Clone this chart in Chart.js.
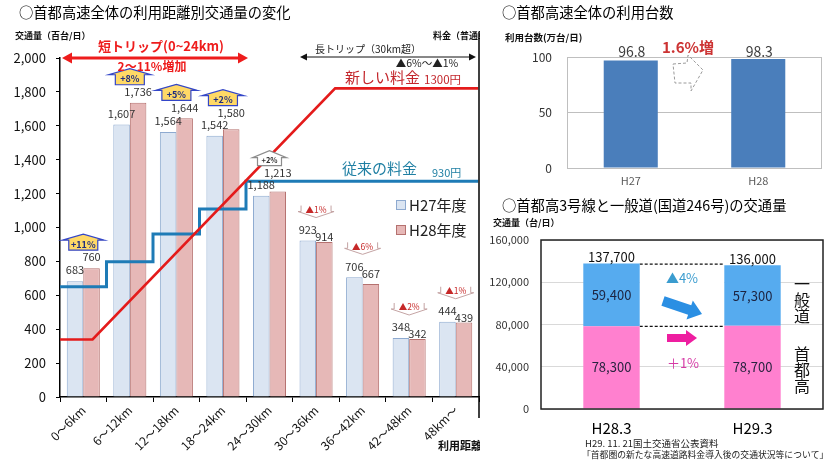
<!DOCTYPE html>
<html lang="ja">
<head>
<meta charset="utf-8">
<title>首都高速 交通量の変化</title>
<script src="https://cdn.jsdelivr.net/npm/chart.js@4.4.1/dist/chart.umd.min.js"></script>
<style>
  html, body { margin: 0; padding: 0; background: #fff; }
  #wrap { position: relative; width: 837px; height: 461px; overflow: hidden; background: #fff; }
  #wrap canvas { position: absolute; }
</style>
</head>
<body>
<div id="wrap">
  <canvas id="dist" width="480" height="461" style="left:0;top:0"></canvas>
  <canvas id="fare" width="480" height="461" style="left:0;top:0"></canvas>
  <canvas id="total" width="357" height="200" style="left:480px;top:0"></canvas>
  <canvas id="route" width="357" height="271" style="left:480px;top:190px"></canvas>
</div>
<script>
// ---- traffic by trip distance (hundreds of vehicles / day) ----
const distanceBands = ['0～6km', '6～12km', '12～18km', '18～24km', '24～30km', '30～36km', '36～42km', '42～48km', '48km～'];
const trafficH27 = [683, 1607, 1564, 1542, 1188, 923, 706, 348, 444];
const trafficH28 = [760, 1736, 1644, 1580, 1213, 914, 667, 342, 439];
const changeLabels = ['+11%', '+8%', '+5%', '+2%', '+2%', '▲1%', '▲6%', '▲2%', '▲1%'];
const shortTripBandCount = 4;

// ---- tolls for an ordinary car (yen) by distance (km) ----
const oldFareKm = [0, 6, 12, 18, 24, 54];
const oldFare = [510, 610, 720, 820, 930, 930];
const newFareKm = [0, 4.2, 35.5, 54];
const newFare = [300, 300, 1300, 1300];

// ---- daily users of the whole network (10,000 vehicles / day) ----
const yearLabels = ['H27', 'H28'];
const dailyUsers = [96.8, 98.3];

// ---- Route 3 vs. National Route 246 (vehicles / day) ----
const routePeriods = ['H28.3', 'H29.3'];
const expresswayVolume = [78300, 78700];
const localRoadVolume = [59400, 57300];

const F = "'Noto Sans CJK JP', 'Noto Sans', sans-serif";
Chart.defaults.font.family = F;
const fmt = v => Number(v).toLocaleString('en-US');

function txt(ctx, s, x, y, font, color, align = 'left', base = 'middle') {
  ctx.font = font; ctx.fillStyle = color; ctx.textAlign = align; ctx.textBaseline = base;
  ctx.fillText(s, x, y);
}

function doubleArrow(ctx, x0, x1, y, color, lw, hl, hw) {
  ctx.strokeStyle = color; ctx.fillStyle = color; ctx.lineWidth = lw;
  ctx.beginPath(); ctx.moveTo(x0 + hl - 1, y); ctx.lineTo(x1 - hl + 1, y); ctx.stroke();
  ctx.beginPath(); ctx.moveTo(x0, y); ctx.lineTo(x0 + hl, y - hw / 2); ctx.lineTo(x0 + hl, y + hw / 2); ctx.closePath(); ctx.fill();
  ctx.beginPath(); ctx.moveTo(x1, y); ctx.lineTo(x1 - hl, y - hw / 2); ctx.lineTo(x1 - hl, y + hw / 2); ctx.closePath(); ctx.fill();
}

function blockArrow(ctx, x0, y0, x1, y1, bw, hw, hl, color) {
  const dx = x1 - x0, dy = y1 - y0, L = Math.hypot(dx, dy);
  const ux = dx / L, uy = dy / L, nx = -uy, ny = ux;
  const bx = x1 - ux * hl, by = y1 - uy * hl;
  const pts = [
    [x0 + nx * bw / 2, y0 + ny * bw / 2], [bx + nx * bw / 2, by + ny * bw / 2], [bx + nx * hw / 2, by + ny * hw / 2],
    [x1, y1],
    [bx - nx * hw / 2, by - ny * hw / 2], [bx - nx * bw / 2, by - ny * bw / 2], [x0 - nx * bw / 2, y0 - ny * bw / 2]
  ];
  ctx.beginPath(); pts.forEach((p, i) => i ? ctx.lineTo(p[0], p[1]) : ctx.moveTo(p[0], p[1])); ctx.closePath();
  ctx.fillStyle = color; ctx.fill();
}

// house-shaped "increase" badge
function houseMark(ctx, cx, yb, highlight, label) {
  const boxW = highlight ? 29 : 24, boxH = highlight ? 10 : 8, roofW = highlight ? 42 : 34, roofH = highlight ? 6 : 7;
  ctx.beginPath();
  ctx.moveTo(cx - boxW / 2, yb); ctx.lineTo(cx - boxW / 2, yb - boxH); ctx.lineTo(cx - roofW / 2, yb - boxH);
  ctx.lineTo(cx, yb - boxH - roofH); ctx.lineTo(cx + roofW / 2, yb - boxH); ctx.lineTo(cx + boxW / 2, yb - boxH);
  ctx.lineTo(cx + boxW / 2, yb); ctx.closePath();
  ctx.fillStyle = highlight ? '#ffd966' : '#ffffff'; ctx.fill();
  ctx.strokeStyle = highlight ? '#3346c8' : '#8c8c8c'; ctx.lineWidth = 1.2; ctx.stroke();
  txt(ctx, label, cx, yb - boxH / 2 - 1, `bold ${highlight ? 9 : 7.5}px ${F}`, highlight ? '#1f2d80' : '#333', 'center');
}

// chevron-shaped "decrease" badge
function dropMark(ctx, cx, yt, label) {
  const w = 30, h = 6, wing = 18, tip = 6;
  ctx.beginPath();
  ctx.moveTo(cx - w / 2, yt); ctx.lineTo(cx - w / 2, yt + h); ctx.lineTo(cx - wing, yt + h); ctx.lineTo(cx, yt + h + tip);
  ctx.lineTo(cx + wing, yt + h); ctx.lineTo(cx + w / 2, yt + h); ctx.lineTo(cx + w / 2, yt);
  ctx.fillStyle = '#fff'; ctx.fill();
  ctx.strokeStyle = '#c4a3a3'; ctx.lineWidth = 1; ctx.stroke();
  txt(ctx, label, cx, yt + 4, `8.5px ${F}`, '#c62828', 'center');
}

// ---- traffic bars ----
const distChart = new Chart(document.getElementById('dist'), {
  type: 'bar',
  data: {
    labels: distanceBands,
    datasets: [
      { label: 'H27年度', data: trafficH27, backgroundColor: '#dbe5f2', borderColor: '#8eaad0', borderWidth: 1,
        categoryPercentage: 0.71, barPercentage: 1 },
      { label: 'H28年度', data: trafficH28, backgroundColor: '#e6b8b7', borderColor: '#b5716f', borderWidth: 1,
        categoryPercentage: 0.71, barPercentage: 1 }
    ]
  },
  options: {
    responsive: false, animation: false, events: [],
    layout: { padding: { top: 58, right: 1, bottom: 0, left: 0 } },
    plugins: { legend: { display: false }, tooltip: { enabled: false } },
    scales: {
      x: {
        grid: { drawOnChartArea: false, color: '#000', tickLength: 5 },
        border: { color: '#000', width: 1.5 },
        ticks: { minRotation: 45, maxRotation: 45, color: '#111', font: { size: 12 }, padding: 1 },
        afterFit: s => { s.height = 64; }
      },
      y: {
        min: 0, max: 2000,
        ticks: { stepSize: 200, color: '#111', font: { size: 13 }, padding: 10, callback: v => fmt(v) },
        grid: { drawOnChartArea: false, color: '#000', tickLength: 4 },
        border: { color: '#000', width: 1.5 },
        afterFit: s => { s.width = 60; }
      }
    }
  }
});

// ---- toll lines over the bars, plus all captions of the left panel ----
const distDecor = {
  id: 'distDecor',
  afterDraw(chart) {
    const ctx = chart.ctx;
    ctx.save();
    txt(ctx, '○首都高速全体の利用距離別交通量の変化', 19, 13, `14.3px ${F}`, '#000');
    txt(ctx, '交通量（百台/日）', 15, 36, `bold 9px ${F}`, '#111');
    txt(ctx, '料金（普通車）', 433, 36, `bold 9px ${F}`, '#111');

    // panel edge on the right
    ctx.strokeStyle = '#000'; ctx.lineWidth = 1.5;
    ctx.beginPath(); ctx.moveTo(479, 32); ctx.lineTo(479, 418); ctx.stroke();

    // toll captions
    txt(ctx, '新しい料金', 345, 77, `15px ${F}`, '#c3262b');
    txt(ctx, '1300円', 424, 80, `11.5px ${F}`, '#c3262b');
    txt(ctx, '従来の料金', 342, 168, `15px ${F}`, '#1f7fa3');
    txt(ctx, '930円', 432, 173, `11px ${F}`, '#1f7fa3');

    // legend
    [[0, 205], [1, 230]].forEach(([di, y]) => {
      const ds = distChart.data.datasets[di];
      ctx.fillStyle = ds.backgroundColor; ctx.fillRect(396, y - 5, 10, 10);
      ctx.strokeStyle = ds.borderColor; ctx.lineWidth = 1; ctx.strokeRect(396.5, y - 4.5, 9, 9);
      txt(ctx, ds.label, 409, y, `15px ${F}`, '#222');
    });

    // value labels and change badges
    const m27 = distChart.getDatasetMeta(0).data, m28 = distChart.getDatasetMeta(1).data;
    distanceBands.forEach((band, i) => {
      const a = m27[i], b = m28[i];
      const sa = fmt(trafficH27[i]), sb = fmt(trafficH28[i]);
      let ya = a.y - 11, yb = b.y - 11;
      ctx.font = `11px ${F}`;
      const wa = ctx.measureText(sa).width, wb = ctx.measureText(sb).width;
      const overlap = (a.x + wa / 2) - (b.x - wb / 2);
      if (overlap > -1 && Math.abs(ya - yb) < 8) {
        yb = ya + (trafficH28[i] >= trafficH27[i] ? -12 : 7);
      }
      txt(ctx, sa, a.x, ya, `11px ${F}`, '#333', 'center');
      txt(ctx, sb, b.x, yb, `11px ${F}`, '#333', 'center');

      const cx = distChart.scales.x.getPixelForValue(i);
      const topLabel = Math.min(ya, yb);
      const label = changeLabels[i];
      if (label.startsWith('▲')) {
        dropMark(ctx, cx, topLabel - 24, label);
      } else {
        houseMark(ctx, cx, topLabel - 7, i < shortTripBandCount, label);
      }
    });

    // trip range arrows
    doubleArrow(ctx, 62, 248, 58, '#ee1c1c', 3, 10, 11);
    txt(ctx, '短トリップ(0~24km)', 161, 46, `bold 13px ${F}`, '#ee1c1c', 'center');
    txt(ctx, '2～11%増加', 152, 66, `bold 12px ${F}`, '#ee1c1c', 'center');
    doubleArrow(ctx, 300, 476, 57, '#111', 1, 7, 7);
    txt(ctx, '長トリップ（30km超）', 368, 49, `10px ${F}`, '#222', 'center');
    txt(ctx, '▲6%～▲1%', 427, 63, `10.5px ${F}`, '#222', 'center');

    txt(ctx, '利用距離', 438, 446, `bold 11px ${F}`, '#111');
    ctx.restore();
  }
};

const fareChart = new Chart(document.getElementById('fare'), {
  type: 'line',
  data: {
    datasets: [
      { label: '新しい料金', data: newFareKm.map((km, i) => ({ x: km, y: newFare[i] })),
        borderColor: '#e41b1b', borderWidth: 2.6, pointRadius: 0, fill: false },
      { label: '従来の料金', data: oldFareKm.map((km, i) => ({ x: km, y: oldFare[i] })), stepped: 'before',
        borderColor: '#1e7bb6', borderWidth: 3, pointRadius: 0, fill: false }
    ]
  },
  options: {
    responsive: false, animation: false, events: [],
    layout: { padding: { top: 58, right: 1, bottom: 64, left: 60 } },
    plugins: { legend: { display: false }, tooltip: { enabled: false } },
    scales: {
      x: { type: 'linear', min: 0, max: 54, offset: false, display: false },
      y: { type: 'linear', min: 71, max: 1421, display: false }
    }
  },
  plugins: [distDecor]
});

// ---- daily users ----
const totalDecor = {
  id: 'totalDecor',
  afterDraw(chart) {
    const ctx = chart.ctx, a = chart.chartArea;
    ctx.save();
    ctx.strokeStyle = '#bfbfbf'; ctx.lineWidth = 1;
    ctx.strokeRect(a.left + 0.5, a.top + 0.5, a.right - a.left - 1, a.bottom - a.top);
    txt(ctx, '○首都高速全体の利用台数', 22, 13, `14.3px ${F}`, '#000');
    txt(ctx, '利用台数(万台/日)', 25, 37, `bold 9.5px ${F}`, '#111');
    chart.getDatasetMeta(0).data.forEach((el, i) => {
      txt(ctx, String(dailyUsers[i]), el.x + 1, 52, `14px ${F}`, '#404040', 'center');
    });
    // growth note with dashed arrow
    txt(ctx, '1.6%増', 182, 47, `bold 15px ${F}`, '#cc3333');
    ctx.setLineDash([3, 2]); ctx.strokeStyle = '#9a9a9a'; ctx.lineWidth = 1;
    ctx.beginPath();
    ctx.moveTo(193, 64); ctx.lineTo(207, 63); ctx.lineTo(208, 55); ctx.lineTo(223, 70);
    ctx.lineTo(211, 91); ctx.lineTo(211, 83); ctx.lineTo(195, 83); ctx.closePath(); ctx.stroke();
    ctx.restore();
  }
};
const totalChart = new Chart(document.getElementById('total'), {
  type: 'bar',
  data: { labels: yearLabels, datasets: [{ label: '利用台数', data: dailyUsers, backgroundColor: '#4a7ebb', categoryPercentage: 0.424, barPercentage: 1 }] },
  options: {
    responsive: false, animation: false, events: [],
    layout: { padding: { top: 57, right: 15, bottom: 0, left: 0 } },
    plugins: { legend: { display: false }, tooltip: { enabled: false } },
    scales: {
      x: { grid: { display: false, drawTicks: false }, border: { display: false },
           ticks: { color: '#595959', font: { size: 11 }, padding: 6 }, afterFit: s => { s.height = 32; } },
      y: { min: 0, max: 100, ticks: { stepSize: 50, color: '#333', font: { size: 12 }, padding: 15 },
           grid: { color: '#bfbfbf', drawTicks: false }, border: { display: false }, afterFit: s => { s.width = 87; } }
    }
  },
  plugins: [totalDecor]
});

// ---- Route 3 vs. National Route 246 ----
const routeDecor = {
  id: 'routeDecor',
  beforeDatasetsDraw(chart) {
    const ctx = chart.ctx;
    const low = chart.getDatasetMeta(0).data, up = chart.getDatasetMeta(1).data;
    const x0 = low[0].x + low[0].width / 2, x1 = low[1].x - low[1].width / 2;
    const yTop = up[0].y, yMid = low[0].y;
    ctx.save();
    ctx.fillStyle = '#fff'; ctx.fillRect(x0, yTop, x1 - x0, yMid - yTop);
    ctx.setLineDash([3, 2]); ctx.strokeStyle = '#111'; ctx.lineWidth = 1.2;
    ctx.beginPath(); ctx.moveTo(x0, yTop + 0.5); ctx.lineTo(x1, yTop + 0.5);
    ctx.moveTo(x0, yMid); ctx.lineTo(x1, yMid); ctx.stroke();
    ctx.restore();
  },
  afterDraw(chart) {
    const ctx = chart.ctx, a = chart.chartArea;
    ctx.save();
    ctx.strokeStyle = '#222'; ctx.lineWidth = 1.5;
    ctx.strokeRect(a.left, a.top, a.right - a.left, a.bottom - a.top);
    txt(ctx, '○首都高3号線と一般道(国道246号)の交通量', 22, 16, `14.3px ${F}`, '#000');
    txt(ctx, '交通量（台/日）', 13, 33, `bold 9px ${F}`, '#111');

    const low = chart.getDatasetMeta(0).data, up = chart.getDatasetMeta(1).data;
    routePeriods.forEach((p, i) => {
      const lo = low[i], hi = up[i];
      txt(ctx, fmt(expresswayVolume[i]), lo.x, (lo.y + lo.base) / 2, `13px ${F}`, '#2a2340', 'center');
      txt(ctx, fmt(localRoadVolume[i]), hi.x, (hi.y + hi.base) / 2, `13px ${F}`, '#1c2340', 'center');
      txt(ctx, fmt(expresswayVolume[i] + localRoadVolume[i]), hi.x, hi.y - 6, `13px ${F}`, '#111', 'center');
    });

    txt(ctx, '▲4%', 202, 88, `13px ${F}`, '#3a9ccf', 'center');
    blockArrow(ctx, 183, 111, 222, 124, 10, 20, 13, '#2b8fe3');
    blockArrow(ctx, 187, 148, 217, 148, 8, 16, 11, '#ee1ea0');
    txt(ctx, '＋1%', 203, 173, `13px ${F}`, '#d63aa6', 'center');

    ['一', '般', '道'].forEach((c, k) => txt(ctx, c, 322, 94 + k * 16, `16px ${F}`, '#111', 'center'));
    ['首', '都', '高'].forEach((c, k) => txt(ctx, c, 322, 164 + k * 16, `16px ${F}`, '#111', 'center'));

    txt(ctx, 'H29. 11. 21国土交通省公表資料', 105, 253, `9.5px ${F}`, '#222');
    txt(ctx, '「首都圏の新たな高速道路料金導入後の交通状況等について」', 102, 265, `8.8px ${F}`, '#222');
    ctx.restore();
  }
};
const routeChart = new Chart(document.getElementById('route'), {
  type: 'bar',
  data: {
    labels: routePeriods,
    datasets: [
      { label: '首都高', data: expresswayVolume, backgroundColor: '#ff80cf', categoryPercentage: 0.4, barPercentage: 1 },
      { label: '一般道', data: localRoadVolume, backgroundColor: '#56abef', categoryPercentage: 0.4, barPercentage: 1 }
    ]
  },
  options: {
    responsive: false, animation: false, events: [],
    layout: { padding: { top: 50, right: 14, bottom: 0, left: 0 } },
    plugins: { legend: { display: false }, tooltip: { enabled: false } },
    scales: {
      x: { stacked: true, grid: { display: false }, border: { display: false },
           ticks: { color: '#000', font: { size: 15 }, padding: 2 }, afterFit: s => { s.height = 52; } },
      y: { stacked: true, min: 0, max: 160000,
           ticks: { stepSize: 40000, color: '#333', font: { size: 11 }, padding: 12, callback: v => fmt(v) },
           grid: { color: '#d9d9d9', drawTicks: false }, border: { display: false }, afterFit: s => { s.width = 61; } }
    }
  },
  plugins: [routeDecor]
});

// keep each plot area on its intended frame, whatever the tick labels add around it
function pinArea(chart, want) {
  const a = chart.chartArea, p = chart.config.options.layout.padding;
  p.top += want.top - a.top; p.left += want.left - a.left;
  p.right += a.right - want.right; p.bottom += a.bottom - want.bottom;
  chart.update('none');
}
pinArea(distChart, { left: 60, top: 58, right: 479, bottom: 397 });
pinArea(fareChart, { left: 60, top: 58, right: 479, bottom: 397 });
pinArea(totalChart, { left: 87, top: 57, right: 342, bottom: 168 });
pinArea(routeChart, { left: 61, top: 50, right: 343, bottom: 219 });
</script>
</body>
</html>
